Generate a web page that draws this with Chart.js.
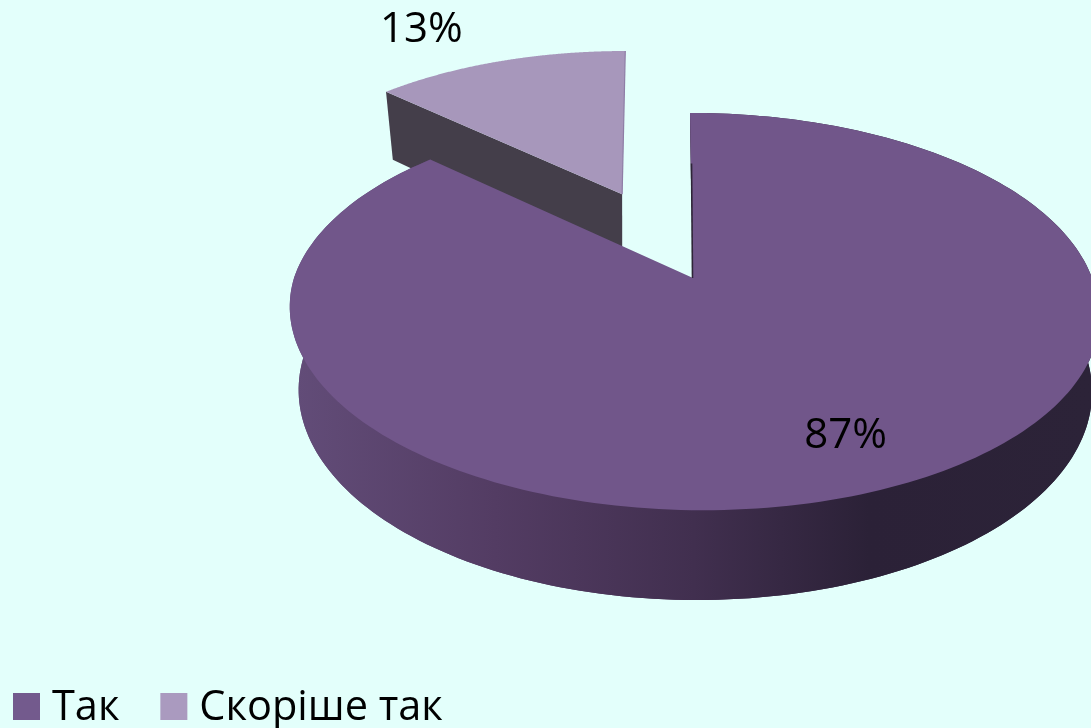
<!DOCTYPE html>
<html><head><meta charset="utf-8">
<style>html,body{margin:0;padding:0;background:#e3fffb;overflow:hidden}#w{width:1091px;height:728px;position:relative}</style>
<script src="https://cdn.jsdelivr.net/npm/chart.js@4"></script>
</head><body><div id="w"><canvas id="c"></canvas></div>
<script>
const categories = ["Так", "Скоріше так"];
const values = [87, 13];
const percentLabels = ["87%", "13%"];
const sliceColors = ["#71568a", "#a797bb"];
const legendColors = ["#735a8d", "#aa9abf"];
const explodeFraction = [0, 0.51];
const widthScale = [1, 0.98];
const labelRadius = [0.77, 1.807];
const labelNudge = [[7, 3], [-43, 2]];

const FONT = '"Open Sans", sans-serif';
// perspective projection of the unit disc; w=0 top face, w=1 bottom face; i = slice index
function project(u, v, w, i) {
  const den = 1 - 0.169 * v;
  const R = w ? 391 : 399, a = w ? 143 : 146, b = w ? 355.6 : 278, cx = w ? 695 : 693;
  let s, dx = 0;
  if (i === 1) { s = w ? 4 : 7; dx = w ? 2.5 : 7.3; }
  else { s = w ? (v < 0 ? 4 : 2) : (v < 0 ? 3 : 10); }
  return [cx + dx + R * u / den + s * v, (a * v + b) / den];
}
function discPoints(el, i, w, r) {
  const frac = explodeFraction[i], ws = widthScale[i] * r;
  const mid = (el.startAngle + el.endAngle) / 2;
  const ou = frac * Math.cos(mid), ov = frac * Math.sin(mid);
  const pts = [];
  const n = 240;
  for (let k = 0; k <= n; k++) {
    const t = el.startAngle + (el.endAngle - el.startAngle) * k / n;
    pts.push(project(ou + ws * Math.cos(t), ov + r * Math.sin(t), w, i));
  }
  return { rim: pts, apex: project(ou, ov, w, i) };
}
function poly(ctx, pts, fill) {
  ctx.beginPath();
  pts.forEach((p, i) => i ? ctx.lineTo(p[0], p[1]) : ctx.moveTo(p[0], p[1]));
  ctx.closePath();
  ctx.fillStyle = fill;
  ctx.fill();
}
const pie3d = {
  id: "pie3d",
  beforeDatasetsDraw(chart) {
    const ctx = chart.ctx;
    const arcs = chart.getDatasetMeta(0).data;
    ctx.save();
    // detached slice first: only its long cut face is visible
    {
      const top = discPoints(arcs[1], 1, 0, 1), low = discPoints(arcs[1], 1, 1, 1);
      poly(ctx, [top.apex, top.rim[0], low.rim[0], low.apex], "#443e4a");
      poly(ctx, top.rim.concat([top.apex]), sliceColors[1]);
      const e = top.rim[top.rim.length - 1];
      ctx.beginPath();
      ctx.moveTo(top.apex[0], top.apex[1]);
      ctx.lineTo(e[0], e[1]);
      ctx.strokeStyle = "#8f7ea6";
      ctx.lineWidth = 1.2;
      ctx.stroke();
    }
    // large slice
    {
      const top = discPoints(arcs[0], 0, 0, 1), low = discPoints(arcs[0], 0, 1, 1);
      const inner = discPoints(arcs[0], 0, 0, 0.98);
      const wall = ctx.createLinearGradient(297, 0, 1091, 0);
      wall.addColorStop(0, "#624c78");
      wall.addColorStop(0.25, "#533c63");
      wall.addColorStop(0.5, "#412f4f");
      wall.addColorStop(0.72, "#2b2137");
      wall.addColorStop(1, "#2c2338");
      poly(ctx, top.rim.concat(low.rim.slice().reverse()), wall);
      poly(ctx, inner.rim.concat(low.rim.slice().reverse()), wall);
      poly(ctx, top.rim.concat([top.apex]), sliceColors[0]);
      // thin dark cut face along the 12 o'clock edge
      const a = project(0, 0, 0, 0), b = project(0, -0.66, 0, 0);
      ctx.beginPath();
      ctx.moveTo(a[0] - 0.5, a[1]);
      ctx.lineTo(b[0] + 0.5, b[1]);
      ctx.strokeStyle = "#2e2538";
      ctx.lineWidth = 1.6;
      ctx.stroke();
    }
    ctx.restore();
    return false;
  },
  afterDraw(chart) {
    const ctx = chart.ctx;
    const arcs = chart.getDatasetMeta(0).data;
    ctx.save();
    ctx.fillStyle = "#000";
    ctx.font = "42px " + FONT;
    ctx.textAlign = "center";
    ctx.textBaseline = "middle";
    arcs.forEach((el, i) => {
      const mid = (el.startAngle + el.endAngle) / 2;
      const p = project(labelRadius[i] * Math.cos(mid), labelRadius[i] * Math.sin(mid), 0, 0);
      ctx.fillText(percentLabels[i], p[0] + labelNudge[i][0], p[1] + labelNudge[i][1]);
    });
    // legend
    ctx.font = "41.5px " + FONT;
    ctx.textAlign = "left";
    ctx.textBaseline = "alphabetic";
    let x = 13;
    categories.forEach((name, i) => {
      ctx.fillStyle = legendColors[i];
      ctx.fillRect(x, 693, 27, 27);
      ctx.fillStyle = "#000";
      ctx.fillText(name, x + 39, 720);
      x += 39 + ctx.measureText(name).width + 41;
    });
    ctx.restore();
  }
};
new Chart(document.getElementById("c"), {
  type: "pie",
  data: { labels: categories, datasets: [{ data: values, backgroundColor: sliceColors, borderWidth: 0 }] },
  options: {
    responsive: true, maintainAspectRatio: false, animation: false, events: [],
    plugins: { legend: { display: false }, tooltip: { enabled: false } }
  },
  plugins: [pie3d]
});
</script></body></html>
